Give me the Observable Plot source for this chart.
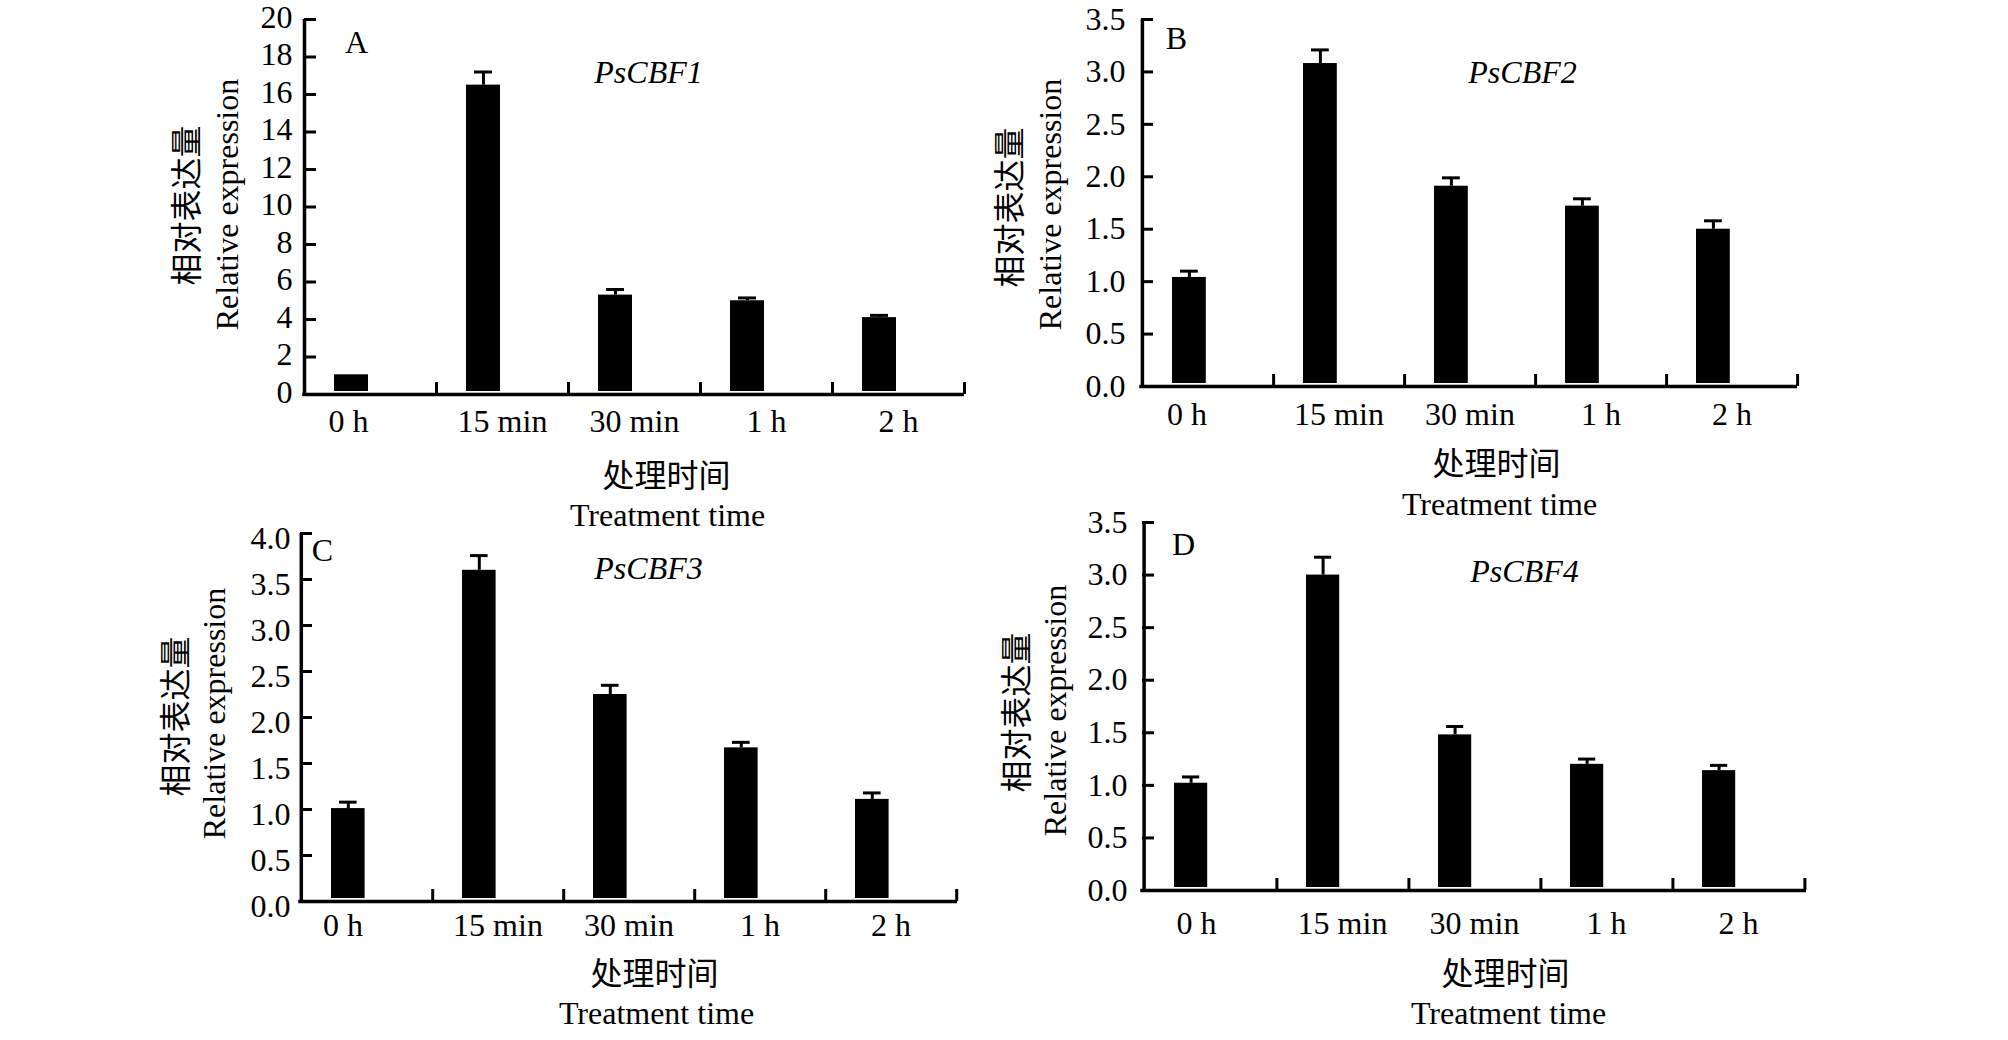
<!DOCTYPE html>
<html><head><meta charset="utf-8">
<script src="https://cdn.jsdelivr.net/npm/d3@7"></script>
<script src="https://cdn.jsdelivr.net/npm/@observablehq/plot@0.6"></script>
<style>
html,body{margin:0;padding:0;background:#fff;}
#page{position:relative;width:2008px;height:1040px;overflow:hidden;background:#fff;}
.panel{position:absolute;}
.panel svg{display:block;max-width:none;}
</style></head><body><div id="page"></div>
<script>
// ---- data ----
const categories = ["0 h", "15 min", "30 min", "1 h", "2 h"];
const valuesA = [1.05, 16.5, 5.3, 5.0, 4.1];
const errorsA = [0, 0.7, 0.3, 0.15, 0.12];
const valuesB = [1.04, 3.08, 1.91, 1.72, 1.50];
const errorsB = [0.06, 0.13, 0.08, 0.07, 0.08];
const valuesC = [1.01, 3.60, 2.25, 1.67, 1.11];
const errorsC = [0.07, 0.16, 0.10, 0.06, 0.07];
const valuesD = [1.02, 3.00, 1.48, 1.20, 1.14];
const errorsD = [0.06, 0.17, 0.08, 0.05, 0.05];
const yTicksA = [0, 2, 4, 6, 8, 10, 12, 14, 16, 18, 20];
const yTicksB = [0, 0.5, 1.0, 1.5, 2.0, 2.5, 3.0, 3.5];
const yTicksC = [0, 0.5, 1.0, 1.5, 2.0, 2.5, 3.0, 3.5, 4.0];
const yTicksD = [0, 0.5, 1.0, 1.5, 2.0, 2.5, 3.0, 3.5];
const panelLetters = ["A", "B", "C", "D"];
const geneNames = ["PsCBF1", "PsCBF2", "PsCBF3", "PsCBF4"];
const yTitleZh = "相对表达量";
const yTitleEn = "Relative expression";
const xTitleZh = "处理时间";
const xTitleEn = "Treatment time";

// ---- layout (page pixel coordinates) ----
const layout = [
  {left:120, top:0,   w:880, h:545, axisX:304,  right:964,  topTick:19,  y0:394, tickPad:12, tickDy:-2,
   letter:[356,42], gene:[648,72], labelY:421, zeroDx:-22, xZh:[666,476], xEn:[667,515], yZh:[187,205], yEn:[227,204]},
  {left:960, top:0,   w:880, h:545, axisX:1141, right:1797, topTick:19,  y0:386, tickPad:16, tickDy:0,
   letter:[1176,38], gene:[1522,72], labelY:414, zeroDx:-21, xZh:[1496,464], xEn:[1499,504], yZh:[1010,207], yEn:[1050,204]},
  {left:120, top:495, w:880, h:545, axisX:300,  right:957,  topTick:533, y0:901, tickPad:10, tickDy:5,
   letter:[322,550], gene:[648,568], labelY:925, zeroDx:-24, xZh:[654,974], xEn:[656,1013], yZh:[176,716], yEn:[214,713]},
  {left:960, top:495, w:880, h:545, axisX:1142, right:1806, topTick:522, y0:890, tickPad:15, tickDy:0,
   letter:[1183,544], gene:[1524,571], labelY:923, zeroDx:-14, xZh:[1505,974], xEn:[1508,1013], yZh:[1017,712], yEn:[1055,710]}
];
const series = [
  {values: valuesA, errors: errorsA, ticks: yTicksA, ymax: 20, fmt: d => String(d)},
  {values: valuesB, errors: errorsB, ticks: yTicksB, ymax: 3.5, fmt: d => d.toFixed(1)},
  {values: valuesC, errors: errorsC, ticks: yTicksC, ymax: 4.0, fmt: d => d.toFixed(1)},
  {values: valuesD, errors: errorsD, ticks: yTicksD, ymax: 3.5, fmt: d => d.toFixed(1)}
];

const serif = "'Liberation Serif', 'Times New Roman', serif";
const cjk = "'Noto Sans CJK SC', sans-serif";
const FS = 32;

function makePanel(k) {
  const P = layout[k], S = series[k];
  const ml = P.axisX - P.left, mr = P.left + P.w - P.right;
  const mt = P.topTick - P.top, mb = P.top + P.h - P.y0;
  const fw = P.right - P.axisX, fh = P.y0 - P.topTick;
  const bw = fw / categories.length;
  const rows = categories.map((c, i) => ({cat: c, value: S.values[i], err: S.errors[i]}));
  const withErr = rows.filter(d => d.err > 0);
  const at = (p) => ({frameAnchor: "top-left", textAnchor: "middle", lineAnchor: "middle", dx: p[0] - P.axisX, dy: p[1] - P.topTick});
  const txt = d => d;

  const svg = Plot.plot({
    width: P.w, height: P.h,
    marginLeft: ml, marginRight: mr, marginTop: mt, marginBottom: mb,
    style: {fontFamily: serif, fontSize: FS + "px", background: "transparent", overflow: "visible", color: "#000"},
    x: {type: "band", domain: categories, padding: 0, axis: null},
    y: {domain: [0, S.ymax], axis: null},
    marks: [
      Plot.barY(rows, {x: "cat", y: "value", fill: "#000", insetLeft: 30, insetRight: bw - 64, insetBottom: 3}),
      Plot.ruleX(withErr, {x: "cat", y1: "value", y2: d => d.value + d.err, dx: 47 - bw / 2, stroke: "#000", strokeWidth: 3}),
      Plot.tickY(withErr, {x: "cat", y: d => d.value + d.err, insetLeft: 38, insetRight: bw - 56, stroke: "#000", strokeWidth: 3}),
      Plot.ruleY(S.ticks, {y: d => d, insetRight: fw - 12, stroke: "#000", strokeWidth: 3}),
      Plot.ruleX(categories, {x: d => d, dx: bw / 2, insetTop: fh - 12, stroke: "#000", strokeWidth: 3}),
      Plot.ruleX([categories[0]], {x: d => d, dx: -bw / 2, stroke: "#000", strokeWidth: 3.5}),
      Plot.ruleY([0], {y: d => d, insetLeft: -1.75, stroke: "#000", strokeWidth: 3.5}),
      Plot.axisY({ticks: S.ticks, tickSize: 0, tickPadding: P.tickPad, tickFormat: S.fmt, fontSize: FS, dy: P.tickDy, label: null, fontFamily: serif}),
      Plot.text(categories.slice(1), {x: d => d, text: txt, frameAnchor: "bottom", textAnchor: "middle", lineAnchor: "middle", dy: P.labelY - P.y0, fontSize: FS, fontFamily: serif}),
      Plot.text(categories.slice(0, 1), {x: d => d, text: txt, frameAnchor: "bottom", textAnchor: "middle", lineAnchor: "middle", dy: P.labelY - P.y0, dx: P.zeroDx, fontSize: FS, fontFamily: serif}),
      Plot.text([panelLetters[k]], {text: txt, ...at(P.letter), fontSize: FS, fontFamily: serif}),
      Plot.text([geneNames[k]], {text: txt, ...at(P.gene), fontSize: FS, fontStyle: "italic", fontFamily: serif}),
      Plot.text([xTitleZh], {text: txt, ...at(P.xZh), fontSize: FS, fontFamily: cjk}),
      Plot.text([xTitleEn], {text: txt, ...at(P.xEn), fontSize: FS, fontFamily: serif}),
      Plot.text([yTitleZh], {text: txt, ...at(P.yZh), rotate: -90, fontSize: FS, fontFamily: cjk}),
      Plot.text([yTitleEn], {text: txt, ...at(P.yEn), rotate: -90, fontSize: FS, fontFamily: serif})
    ]
  });
  const div = document.createElement("div");
  div.className = "panel";
  div.style.left = P.left + "px";
  div.style.top = P.top + "px";
  div.appendChild(svg);
  document.getElementById("page").appendChild(div);
}
[0, 1, 2, 3].forEach(makePanel);
</script>
</body></html>
